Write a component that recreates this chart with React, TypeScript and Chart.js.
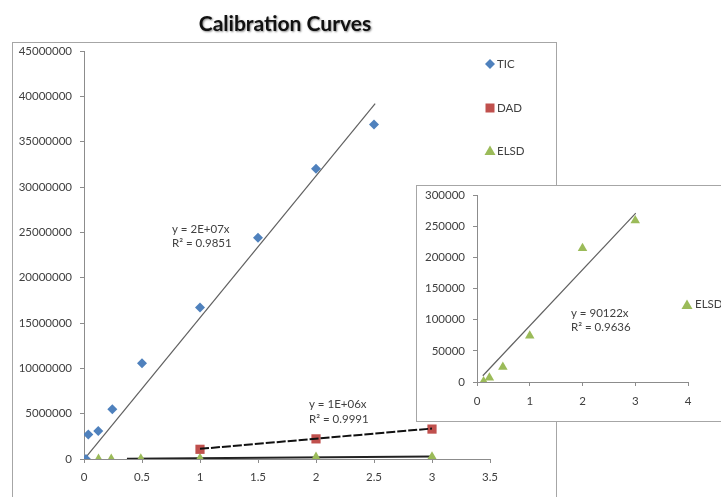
import React, { useEffect, useRef } from "react";
import { Chart, registerables } from "chart.js";

Chart.register(...registerables);

// ---- data ----
const ticX = [0.017, 0.037, 0.123, 0.244, 0.5, 1, 1.5, 2, 2.5];
const ticY = [0, 2.7e6, 3.08e6, 5.5e6, 10.56e6, 16.7e6, 24.4e6, 32.0e6, 36.9e6];
const dadX = [1, 2, 3];
const dadY = [1.07e6, 2.22e6, 3.3e6];
const elsdX = [0.125, 0.235, 0.49, 1, 2, 3];
const elsdY = [1000, 6900, 24000, 74000, 214500, 259000];

// trend line end points (as drawn)
const ticTrendX = [0.017, 2.51];
const ticTrendY = [0.2e6, 39.2e6];
const dadTrendX = [1, 3];
const dadTrendY = [1.12e6, 3.36e6];
const elsdMainTrendX = [0.37, 3];
const elsdMainTrendY = [33000, 270000];
const elsdInsetTrendX = [0.11, 3.01];
const elsdInsetTrendY = [10000, 271000];

const mainXTicks = { min: 0, max: 3.5, step: 0.5 };
const mainYTicks = { min: 0, max: 45000000, step: 5000000 };
const insetXTicks = { min: 0, max: 4, step: 1 };
const insetYTicks = { min: 0, max: 300000, step: 50000 };

const TITLE = "Calibration Curves";
const ticEq = ["y = 2E+07x", "R² = 0.9851"];
const dadEq = ["y = 1E+06x", "R² = 0.9991"];
const elsdEq = ["y = 90122x", "R² = 0.9636"];

// ---- styles ----
const BLUE = "#4F81BD";
const RED = "#C0504D";
const GREEN = "#9BBB59";
const TEXT = "#404040";
const AXIS = "#8C8C8C";
const FONT = "Lato, 'DejaVu Sans', sans-serif";

const pts = (xs: number[], ys: number[]) => xs.map((x, i) => ({ x, y: ys[i] }));

function drawMarker(ctx: CanvasRenderingContext2D, kind: string, x: number, y: number, color: string) {
  ctx.save();
  ctx.fillStyle = color;
  ctx.beginPath();
  if (kind === "diamond") {
    ctx.moveTo(x, y - 5);
    ctx.lineTo(x + 5, y);
    ctx.lineTo(x, y + 5);
    ctx.lineTo(x - 5, y);
  } else if (kind === "square") {
    ctx.rect(x - 4.5, y - 4.5, 9, 9);
  } else {
    ctx.moveTo(x, y - 5.5);
    ctx.lineTo(x + 5.5, y + 4);
    ctx.lineTo(x - 5.5, y + 4);
  }
  ctx.closePath();
  ctx.fill();
  ctx.restore();
}

function drawText(ctx: CanvasRenderingContext2D, lines: string[], x: number, y: number, gap: number) {
  ctx.save();
  ctx.fillStyle = TEXT;
  ctx.font = `11.5px ${FONT}`;
  ctx.textAlign = "left";
  ctx.textBaseline = "middle";
  lines.forEach((l, i) => ctx.fillText(l, x, y + i * gap));
  ctx.restore();
}

function axisOpts(t: { min: number; max: number; step: number }, pad: number, fit: (s: any) => void) {
  return {
    type: "linear" as const,
    min: t.min,
    max: t.max,
    ticks: {
      stepSize: t.step,
      color: TEXT,
      font: { family: FONT, size: 11.5 },
      padding: pad,
      callback: (v: any) => String(v),
    },
    grid: { display: true, drawOnChartArea: false, drawTicks: true, tickLength: 4, color: AXIS },
    border: { display: true, color: AXIS, width: 1 },
    afterFit: (s: any) => {
      fit(s);
      s.paddingTop = 0;
      s.paddingBottom = 0;
      s.paddingLeft = 0;
      s.paddingRight = 0;
    },
  };
}

const mainOverlay = {
  id: "mainOverlay",
  afterDraw(chart: any) {
    const ctx = chart.ctx as CanvasRenderingContext2D;
    // title
    ctx.save();
    ctx.font = `bold 21px ${FONT}`;
    ctx.fillStyle = "#111";
    ctx.textAlign = "center";
    ctx.textBaseline = "middle";
    ctx.shadowColor = "rgba(0,0,0,0.45)";
    ctx.shadowOffsetX = 1;
    ctx.shadowOffsetY = 1;
    ctx.shadowBlur = 2;
    ctx.fillText(TITLE, 285, 24);
    ctx.restore();
    // legend
    const items = [
      { label: "TIC", kind: "diamond", color: BLUE, y: 64 },
      { label: "DAD", kind: "square", color: RED, y: 108 },
      { label: "ELSD", kind: "triangle", color: GREEN, y: 151 },
    ];
    items.forEach((it) => {
      drawMarker(ctx, it.kind, 490, it.y, it.color);
      drawText(ctx, [it.label], 497, it.y, 0);
    });
    // equations
    drawText(ctx, ticEq, 172, 229, 14.5);
    drawText(ctx, dadEq, 309, 404, 15);
  },
};

const insetOverlay = {
  id: "insetOverlay",
  afterDraw(chart: any) {
    const ctx = chart.ctx as CanvasRenderingContext2D;
    drawMarker(ctx, "triangle", 270, 119, GREEN);
    drawText(ctx, ["ELSD"], 278, 118, 0);
    drawText(ctx, elsdEq, 154, 127, 14.5);
  },
};

export default function App() {
  const mainRef = useRef<HTMLCanvasElement>(null);
  const insetRef = useRef<HTMLCanvasElement>(null);

  useEffect(() => {
    const main = new Chart(mainRef.current!, {
      type: "scatter",
      data: {
        datasets: [
          {
            label: "TIC",
            data: pts(ticX, ticY),
            pointStyle: "rectRot",
            pointRadius: 5,
            pointBorderWidth: 0,
            backgroundColor: BLUE,
            borderColor: BLUE,
            order: 1,
          },
          {
            label: "DAD",
            data: pts(dadX, dadY),
            pointStyle: "rect",
            pointRadius: 6.5,
            pointBorderWidth: 0,
            backgroundColor: RED,
            borderColor: RED,
            order: 1,
          },
          {
            label: "ELSD",
            data: pts(elsdX, elsdY),
            pointStyle: "triangle",
            pointRadius: 5.5,
            pointBorderWidth: 0,
            backgroundColor: GREEN,
            borderColor: GREEN,
            order: 1,
          },
          {
            label: "TIC trend",
            type: "line",
            data: pts(ticTrendX, ticTrendY),
            showLine: true,
            pointRadius: 0,
            borderColor: "#606060",
            borderWidth: 1.2,
            order: 5,
          } as any,
          {
            label: "DAD trend",
            type: "line",
            data: pts(dadTrendX, dadTrendY),
            showLine: true,
            pointRadius: 0,
            borderColor: "#111",
            borderWidth: 2,
            borderDash: [9, 2],
            order: 0,
          } as any,
          {
            label: "ELSD trend",
            type: "line",
            data: pts(elsdMainTrendX, elsdMainTrendY),
            showLine: true,
            pointRadius: 0,
            borderColor: "#222",
            borderWidth: 2,
            order: 5,
          } as any,
        ],
      },
      options: {
        responsive: false,
        animation: false,
        events: [],
        layout: { padding: { left: 0, right: 231, top: 51, bottom: 0 } },
        plugins: { legend: { display: false }, tooltip: { enabled: false }, title: { display: false } },
        scales: {
          x: axisOpts(mainXTicks, 7, (s: any) => { s.height = 38; }),
          y: axisOpts(mainYTicks, 8, (s: any) => { s.width = 84; }),
        },
      } as any,
      plugins: [mainOverlay],
    });

    const inset = new Chart(insetRef.current!, {
      type: "scatter",
      data: {
        datasets: [
          {
            label: "ELSD",
            data: pts(elsdX, elsdY),
            pointStyle: "triangle",
            pointRadius: 5.5,
            pointBorderWidth: 0,
            backgroundColor: GREEN,
            borderColor: GREEN,
            order: 1,
          },
          {
            label: "ELSD trend",
            type: "line",
            data: pts(elsdInsetTrendX, elsdInsetTrendY),
            showLine: true,
            pointRadius: 0,
            borderColor: "#606060",
            borderWidth: 1.2,
            order: 5,
          } as any,
        ],
      },
      options: {
        responsive: false,
        animation: false,
        events: [],
        layout: { padding: { left: 0, right: 47, top: 9, bottom: 0 } },
        plugins: { legend: { display: false }, tooltip: { enabled: false }, title: { display: false } },
        scales: {
          x: axisOpts(insetXTicks, 8, (s: any) => { s.height = 39; }),
          y: axisOpts(insetYTicks, 8, (s: any) => { s.width = 60; }),
        },
      } as any,
      plugins: [insetOverlay],
    });

    return () => {
      main.destroy();
      inset.destroy();
    };
  }, []);

  return (
    <div style={{ position: "absolute", left: 0, top: 0, width: 721, height: 497, overflow: "hidden", background: "#fff" }}>
      <canvas ref={mainRef} width={721} height={497} style={{ position: "absolute", left: 0, top: 0, display: "block" }} />
      <div
        style={{
          position: "absolute",
          left: 12,
          top: 42,
          width: 545,
          height: 480,
          border: "1px solid #A6A6A6",
          boxSizing: "border-box",
          pointerEvents: "none",
        }}
      />
      <div
        style={{
          position: "absolute",
          left: 416,
          top: 185,
          width: 320,
          height: 237,
          border: "1px solid #A6A6A6",
          boxSizing: "border-box",
          background: "#fff",
        }}
      >
        <canvas ref={insetRef} width={318} height={235} style={{ display: "block" }} />
      </div>
    </div>
  );
}
